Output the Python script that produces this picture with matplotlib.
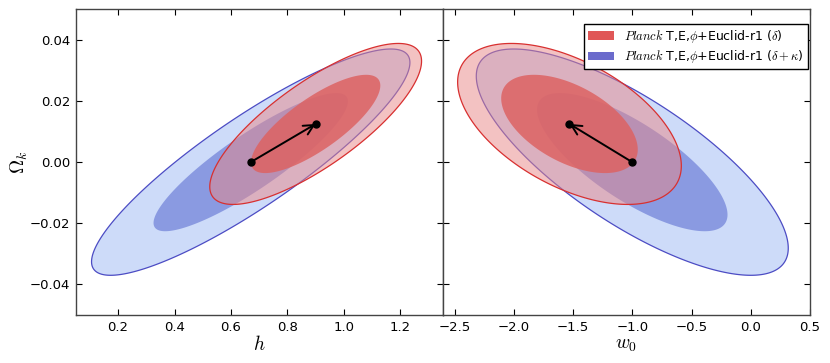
import numpy as np
import matplotlib
matplotlib.use("Agg")
import matplotlib.pyplot as plt
from matplotlib.patches import Rectangle

plt.rcParams['mathtext.fontset'] = 'cm'
plt.rcParams['font.family'] = ['DejaVu Sans']

# ---- data ----
labels = [r"$\mathit{Planck}$ T,E,$\phi$+Euclid-r1 ($\delta$)",
          r"$\mathit{Planck}$ T,E,$\phi$+Euclid-r1 ($\delta+\kappa$)"]
panel_params = ["h", "w0"]
xlabels = [r"$h$", r"$w_0$"]
ylabel = r"$\Omega_k$"

# (delta) : shifted best fit
red_center_x = [0.90, -1.53]
red_center_y = 0.0125
red_sigma_x = [0.151, 0.380]
red_sigma_y = 0.0106
red_rho = [0.78, -0.52]

# (delta + kappa): fiducial
blue_center_x = [0.67, -1.00]
blue_center_y = 0.0
blue_sigma_x = [0.227, 0.530]
blue_sigma_y = 0.0149
blue_rho = [0.88, -0.76]

xlims = [(0.05, 1.35), (-2.6, 0.5)]
ylim = (-0.05, 0.05)
xticks = [[0.2, 0.4, 0.6, 0.8, 1.0, 1.2], [-2.5, -2.0, -1.5, -1.0, -0.5, 0.0, 0.5]]
xticklabels = [['0.2', '0.4', '0.6', '0.8', '1.0', '1.2'],
               ['\u22122.5', '\u22122.0', '\u22121.5', '\u22121.0', '\u22120.5', '0.0', '0.5']]
yticks = [-0.04, -0.02, 0.0, 0.02, 0.04]
yticklabels = ['\u22120.04', '\u22120.02', '0.00', '0.02', '0.04']
chi2_levels = [2.30, 6.17]  # 1 and 2 sigma for 2 parameters

# ---- styling ----
blue_outer = '#cddbf9'
blue_inner = '#8a9ae1'
blue_edge = '#4c4cc4'
red_outer_rgba = (233 / 255, 135 / 255, 135 / 255, 0.5)
red_inner_rgba = (221 / 255, 99 / 255, 99 / 255, 0.86)
red_edge = '#d83030'


def ellipse(cx, cy, sx, sy, rho, k, n=400):
    t = np.linspace(0, 2 * np.pi, n)
    x = cx + k * sx * np.cos(t)
    y = cy + k * sy * (rho * np.cos(t) + np.sqrt(1 - rho ** 2) * np.sin(t))
    return x, y


fig = plt.figure(figsize=(8.3, 3.63), dpi=100)
W, H = 830, 363
axL = fig.add_axes([75.7 / W, (H - 315) / H, (442.7 - 75.7) / W, (315 - 9.3) / H])
axR = fig.add_axes([442.7 / W, (H - 315) / H, (810 - 442.7) / W, (315 - 9.3) / H])
axes = [axL, axR]

k1, k2 = np.sqrt(chi2_levels[0]), np.sqrt(chi2_levels[1])

for i, ax in enumerate(axes):
    # blue (delta+kappa)
    x, y = ellipse(blue_center_x[i], blue_center_y, blue_sigma_x[i], blue_sigma_y, blue_rho[i], k2)
    ax.fill(x, y, facecolor=blue_outer, edgecolor=blue_edge, lw=0.9, zorder=1)
    x, y = ellipse(blue_center_x[i], blue_center_y, blue_sigma_x[i], blue_sigma_y, blue_rho[i], k1)
    ax.fill(x, y, facecolor=blue_inner, edgecolor='none', zorder=2)
    # red (delta)
    x, y = ellipse(red_center_x[i], red_center_y, red_sigma_x[i], red_sigma_y, red_rho[i], k2)
    ax.fill(x, y, facecolor=red_outer_rgba, edgecolor=red_edge, lw=0.9, zorder=3)
    x, y = ellipse(red_center_x[i], red_center_y, red_sigma_x[i], red_sigma_y, red_rho[i], k1)
    ax.fill(x, y, facecolor=red_inner_rgba, edgecolor='none', zorder=4)

    # arrow from fiducial to shifted
    ax.annotate('', xy=(red_center_x[i], red_center_y),
                xytext=(blue_center_x[i], blue_center_y),
                arrowprops=dict(arrowstyle='->', color='black', lw=1.4,
                                shrinkA=0, shrinkB=0, mutation_scale=18),
                zorder=6)
    ax.plot([blue_center_x[i], red_center_x[i]], [blue_center_y, red_center_y],
            'o', color='black', ms=5, zorder=7, linestyle='none')

    ax.set_xlim(*xlims[i])
    ax.set_ylim(*ylim)
    ax.set_xticks(xticks[i])
    ax.set_xticklabels(xticklabels[i])
    ax.set_yticks(yticks)
    ax.tick_params(direction='in', top=True, right=True, length=4, width=0.8,
                   labelsize=9.5, colors='black', pad=4)
    ax.set_xlabel(xlabels[i], fontsize=14, labelpad=1)
    for s in ax.spines.values():
        s.set_color('#444444')
        s.set_linewidth(1.0)

axL.set_yticklabels(yticklabels)
axR.tick_params(labelleft=False)
axL.set_ylabel(ylabel, fontsize=14, labelpad=0)

handles = [Rectangle((0, 0), 1, 1, facecolor='#e05757', edgecolor='none'),
           Rectangle((0, 0), 1, 1, facecolor='#6b6bcc', edgecolor='none')]
leg = axR.legend(handles, labels, loc='upper right', bbox_to_anchor=(0.994, 0.952),
                 borderaxespad=0, fontsize=9, fancybox=False, framealpha=1,
                 handlelength=2.1, handleheight=0.7, borderpad=0.3, labelspacing=0.3,
                 handletextpad=0.8)
leg.get_frame().set_edgecolor('black')
leg.get_frame().set_linewidth(1.0)
leg.set_zorder(10)

fig.savefig('out.png', dpi=100)
